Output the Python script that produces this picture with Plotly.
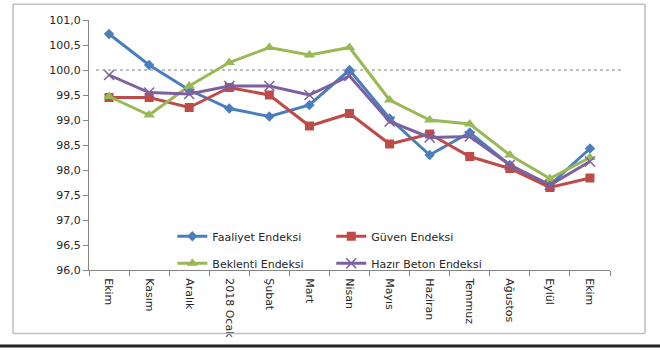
import plotly.graph_objects as go

months = ["Ekim", "Kasım", "Aralık", "2018 Ocak", "Şubat", "Mart", "Nisan",
          "Mayıs", "Haziran", "Temmuz", "Ağustos", "Eylül", "Ekim "]

faaliyet = [100.72, 100.10, 99.60, 99.23, 99.07, 99.30, 100.00, 99.03, 98.30, 98.75, 98.10, 97.70, 98.43]
guven = [99.45, 99.45, 99.25, 99.65, 99.50, 98.88, 99.13, 98.52, 98.72, 98.27, 98.03, 97.65, 97.84]
beklenti = [99.47, 99.10, 99.68, 100.15, 100.45, 100.30, 100.45, 99.40, 99.00, 98.92, 98.30, 97.83, 98.25]
hazir_beton = [99.90, 99.55, 99.52, 99.68, 99.68, 99.50, 99.88, 98.97, 98.65, 98.67, 98.10, 97.70, 98.17]
reference_level = 100.0

FONT = "DejaVu Sans"
W, H = 660, 350
ML, MR, MT, MB = 89, 50, 20, 78
PW, PH = W - ML - MR, H - MT - MB


def px_x(p):
    return (p - ML) / PW


def px_y(p):
    return (H - MB - p) / PH


fig = go.Figure()

series = [
    ("Faaliyet Endeksi", faaliyet, "#4a7ebb", "diamond", 8, "legend", "g1"),
    ("Güven Endeksi", guven, "#be4b48", "square", 9, "legend2", "g2"),
    ("Beklenti Endeksi", beklenti, "#98b954", "triangle-up", 10, "legend", "g3"),
    ("Hazır Beton Endeksi", hazir_beton, "#7d60a0", "x-thin", 10, "legend2", "g4"),
]

for name, vals, color, sym, size, lg, grp in series:
    marker = dict(symbol=sym, size=size, color=color)
    if sym == "x-thin":
        marker["line"] = dict(color=color, width=1.5)
    fig.add_trace(go.Scatter(
        x=months, y=vals, name=name, mode="lines+markers",
        line=dict(color=color, width=3), marker=marker,
        legend=lg, legendgroup=grp,
    ))

# reference dotted line at 100
fig.add_shape(type="line", xref="paper", yref="y", x0=px_x(96), x1=px_x(621),
              y0=reference_level, y1=reference_level, layer="below",
              line=dict(color="#808080", width=1, dash="dot"))

# outer chart border (four sides)
bx0, bx1, by0, by1 = px_x(13), px_x(645), px_y(336), px_y(4)
border = dict(color="#bfbfbf", width=1.5)
for (x0, y0, x1, y1) in [(bx0, by0, bx1, by0), (bx0, by1, bx1, by1),
                         (bx0, by0, bx0, by1), (bx1, by0, bx1, by1)]:
    fig.add_shape(type="line", xref="paper", yref="paper",
                  x0=x0, y0=y0, x1=x1, y1=y1, line=border)

# bottom dark rule
fig.add_shape(type="line", xref="paper", yref="paper",
              x0=px_x(0), x1=px_x(660), y0=px_y(348.5), y1=px_y(348.5),
              line=dict(color="#222222", width=3))

legend_common = dict(
    bgcolor="rgba(0,0,0,0)", font=dict(family=FONT, size=11, color="#262626"),
    tracegroupgap=8, itemwidth=30, xanchor="left", yanchor="top",
)

fig.update_layout(
    width=W, height=H,
    margin=dict(l=ML, r=MR, t=MT, b=MB),
    paper_bgcolor="white", plot_bgcolor="rgba(0,0,0,0)",
    separators=",.",
    font=dict(family=FONT, size=11, color="#262626"),
    showlegend=True,
    legend=dict(x=0.160, y=0.193, **legend_common),
    legend2=dict(x=0.465, y=0.193, **legend_common),
    xaxis=dict(
        type="category", showgrid=False, showline=True, linecolor="#868686",
        ticks="outside", tickson="boundaries", ticklen=5, tickcolor="#868686",
        tickangle=90, tickfont=dict(family=FONT, size=11, color="#262626"),
        ticklabelstandoff=5,
        range=[-0.5, 12.5], zeroline=False,
    ),
    yaxis=dict(
        range=[96, 101], dtick=0.5, tickformat=".1f", showgrid=False,
        showline=True, linecolor="#868686", ticks="outside", ticklen=5,
        tickcolor="#868686", zeroline=False,
        tickfont=dict(family=FONT, size=11, color="#262626"),
    ),
)

fig.write_html("out.html")
